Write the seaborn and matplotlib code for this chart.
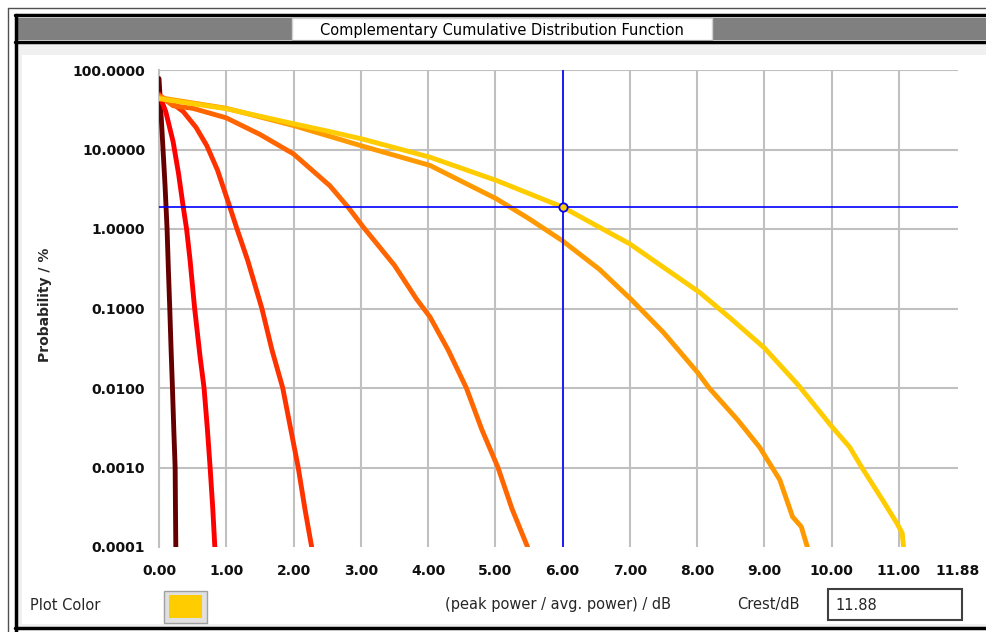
import numpy as np
import pandas as pd
import matplotlib
matplotlib.use("Agg")
import matplotlib.pyplot as plt
import seaborn as sns
from matplotlib.patches import Rectangle
from matplotlib.lines import Line2D

# %%
# CCDF curves: x in dB, y in percent

db_1 = [0.0, 0.02, 0.06, 0.09, 0.12, 0.14, 0.16, 0.18, 0.20, 0.22, 0.24, 0.245, 0.25]
pct_1 = [78, 40, 10, 3.5, 1.0, 0.3, 0.1, 0.03, 0.01, 0.003, 0.001, 0.0003, 0.0001]

db_2 = [0.0, 0.1, 0.21, 0.29, 0.36, 0.41, 0.46, 0.53, 0.61, 0.67, 0.72, 0.76, 0.80, 0.83]
pct_2 = [50, 30, 12.5, 5, 1.9, 1.0, 0.42, 0.1, 0.025, 0.01, 0.003, 0.001, 0.0003, 0.0001]

db_3 = [0.0, 0.2, 0.36, 0.55, 0.71, 0.87, 1.03, 1.16, 1.32, 1.53, 1.68, 1.84, 1.96, 2.07, 2.17, 2.27]
pct_3 = [48, 38, 30, 19, 11.2, 5.5, 2.17, 1.0, 0.4, 0.1, 0.03, 0.01, 0.003, 0.001, 0.0003, 0.0001]

db_4 = [0.0, 0.21, 0.5, 1.0, 1.5, 2.0, 2.54, 2.81, 3.04, 3.5, 3.83, 4.03, 4.3, 4.57, 4.8, 5.04, 5.25, 5.48]
pct_4 = [48, 35.5, 33, 25, 15.5, 8.8, 3.5, 1.89, 1.05, 0.35, 0.131, 0.078, 0.03, 0.01, 0.003, 0.001, 0.0003, 0.0001]

db_5 = [0.0, 1.0, 2.0, 3.03, 4.03, 5.02, 5.5, 6.0, 6.55, 7.02, 7.5, 8.01, 8.18, 8.6, 8.93, 9.23, 9.42, 9.55, 9.64]
pct_5 = [45, 33, 20, 11.0, 6.3, 2.39, 1.35, 0.71, 0.31, 0.13, 0.05, 0.0156, 0.01, 0.004, 0.0018, 0.0007, 0.00024, 0.00018, 0.0001]

db_6 = [0.0, 1.0, 2.0, 2.54, 3.03, 4.03, 5.02, 6.0, 6.55, 7.0, 7.5, 8.04, 8.5, 9.0, 9.5, 10.0, 10.27, 10.45, 10.75, 10.97, 11.05, 11.07]
pct_6 = [43.6, 32.6, 21.1, 16.8, 13.5, 8.0, 4.07, 1.89, 1.05, 0.65, 0.33, 0.159, 0.075, 0.032, 0.011, 0.0033, 0.0018, 0.001, 0.0004, 0.0002, 0.00015, 0.0001]

curve_colors = ["#660000", "#FF0000", "#FF3300", "#FF6600", "#FF9900", "#FFCC00"]

x_ticks = [0, 1, 2, 3, 4, 5, 6, 7, 8, 9, 10, 11, 11.88]
x_labels = ["0.00", "1.00", "2.00", "3.00", "4.00", "5.00", "6.00", "7.00", "8.00", "9.00", "10.00", "11.00", "11.88"]
y_ticks = [0.0001, 0.001, 0.01, 0.1, 1, 10, 100]
y_labels = ["0.0001", "0.0010", "0.0100", "0.1000", "1.0000", "10.0000", "100.0000"]

cursor_db = 6.0
cursor_pct = 1.89
crest_text = "11.88"

# %%
all_db = [db_1, db_2, db_3, db_4, db_5, db_6]
all_pct = [pct_1, pct_2, pct_3, pct_4, pct_5, pct_6]
frames = []
for n, (d, p) in enumerate(zip(all_db, all_pct)):
    frames.append(pd.DataFrame({"db": d, "pct": p, "curve": n}))
df = pd.concat(frames, ignore_index=True)

sns.set_style("white")
plt.rcParams["font.family"] = ["DejaVu Sans"]

W, H = 987, 632
fig = plt.figure(figsize=(W / 100, H / 100), dpi=100)
fig.patch.set_facecolor("white")


def fx(x):
    return x / W


def fy(y):
    return 1 - y / H


def box(x0, y0, x1, y1, **kw):
    fig.add_artist(Rectangle((fx(x0), fy(y1)), fx(x1) - fx(x0), fy(y0) - fy(y1),
                             transform=fig.transFigure, **kw))


def line(x0, y0, x1, y1, **kw):
    fig.add_artist(Line2D([fx(x0), fx(x1)], [fy(y0), fy(y1)], transform=fig.transFigure, **kw))


# window frame
box(18, 44, 987, 628, facecolor="#F0F0F0", edgecolor="none", zorder=0)
box(22, 55, 987, 624, facecolor="white", edgecolor="none", zorder=0)
line(8, 8, 987, 8, color="#505050", lw=1)
line(8, 8, 8, 632, color="#505050", lw=1)
box(18, 18, 987, 40, facecolor="#808080", edgecolor="none")
line(15, 15, 987, 15, color="black", lw=2.5)
line(16, 15, 16, 632, color="black", lw=2.5)
line(15, 42, 987, 42, color="black", lw=2.5)
line(15, 628, 987, 628, color="black", lw=2.5)
box(292, 18, 712, 40, facecolor="white", edgecolor="#D0D0D0", lw=1)
fig.text(fx(502), fy(30), "Complementary Cumulative Distribution Function",
         ha="center", va="center", fontsize=10.5, color="black")

# plot area
ax = fig.add_axes([fx(159), fy(547), fx(958) - fx(159), fy(70) - fy(547)])
ax.set_facecolor("white")

sns.lineplot(data=df, x="db", y="pct", hue="curve", palette=curve_colors,
             units="curve", estimator=None, sort=False, lw=3.5,
             legend=False, ax=ax, zorder=3)

ax.set_yscale("log")
ax.set_xlim(0, 11.88)
ax.set_ylim(0.0001, 100)
ax.set_xticks(x_ticks)
ax.set_xticklabels(x_labels)
ax.set_yticks(y_ticks)
ax.set_yticklabels(y_labels)
ax.minorticks_off()
ax.set_xlabel("")
ax.set_ylabel("")

ax.grid(True, color="#C0C0C0", lw=1.5)
ax.get_xgridlines()[-1].set_visible(False)
ax.get_ygridlines()[0].set_visible(False)

for s in ["top", "right", "bottom"]:
    ax.spines[s].set_visible(False)
ax.spines["left"].set_color("#C0C0C0")
ax.spines["left"].set_linewidth(1.5)

ax.tick_params(axis="both", direction="out", length=7, width=2.2, color="black",
               labelsize=10, pad=3)
ax.tick_params(axis="x", pad=5)
for lab in ax.get_xticklabels() + ax.get_yticklabels():
    lab.set_fontweight("bold")
    lab.set_color("#101010")

# cursor
ax.axvline(cursor_db, color="#0000FF", lw=1.2, zorder=4)
ax.axhline(cursor_pct, color="#0000FF", lw=1.2, zorder=4)
ax.plot(cursor_db, cursor_pct, "o", mfc="#FFCC00", mec="#0000FF", ms=6, mew=1.3, zorder=5)

# labels and controls
fig.text(fx(45), fy(305), "Probability / %", rotation=90, ha="center", va="center",
         fontsize=10, fontweight="bold")
fig.text(fx(558), fy(605), "(peak power / avg. power) / dB", ha="center", va="center", fontsize=10.5)
fig.text(fx(30), fy(605), "Plot Color", ha="left", va="center", fontsize=10.5)
box(164, 591, 207, 623, facecolor="#E0E0E0", edgecolor="#A0A0A0", lw=1)
box(169, 595, 202, 618, facecolor="#FFCC00", edgecolor="none")
fig.text(fx(737), fy(605), "Crest/dB", ha="left", va="center", fontsize=10.5)
box(828, 589, 962, 620, facecolor="white", edgecolor="#404040", lw=1.5)
fig.text(fx(835), fy(605), crest_text, ha="left", va="center", fontsize=10.5)

plt.savefig("out.png", dpi=100)
